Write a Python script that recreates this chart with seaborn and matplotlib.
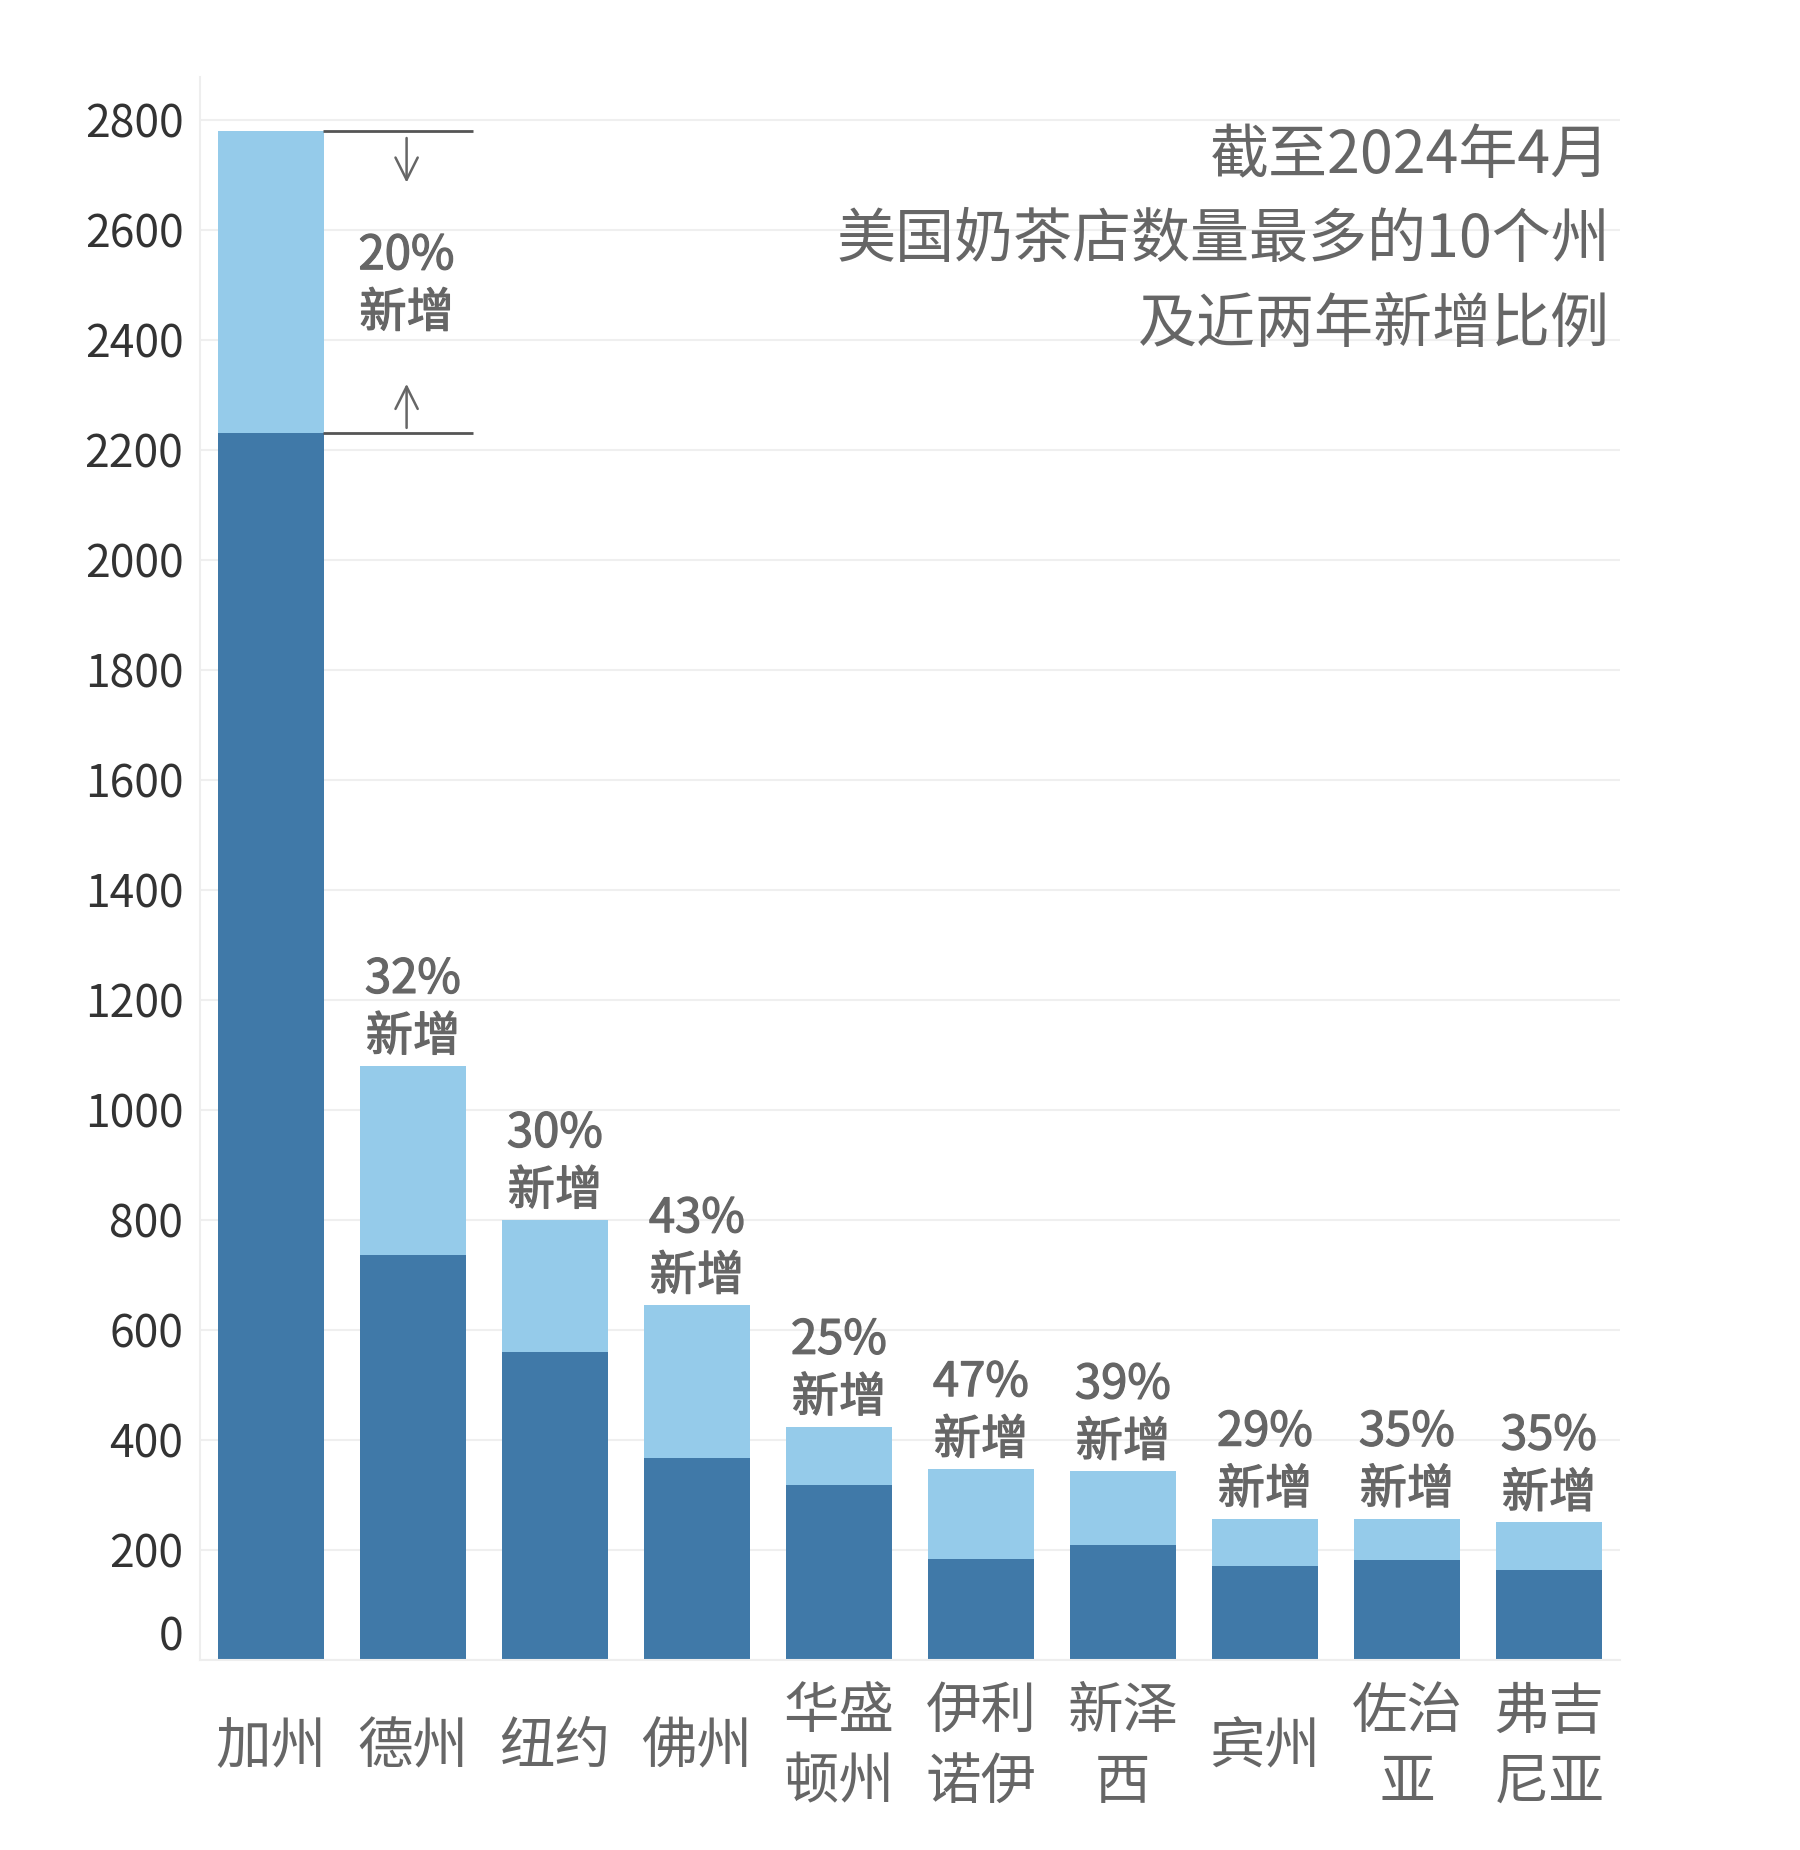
import seaborn as sns
import pandas as pd
import numpy as np
import matplotlib.pyplot as plt
import matplotlib.patheffects as pe

sns.set_style('white')
plt.rcParams['font.family'] = ['Noto Sans CJK SC', 'DejaVu Sans']

# 数据：截至2024年4月的奶茶店数量，以及两年前的数量
states = ['加州', '德州', '纽约', '佛州', '华盛\n顿州', '伊利\n诺伊', '新泽\n西', '宾州', '佐治\n亚', '弗吉\n尼亚']
total_2024 = [2780, 1080, 800, 645, 424, 347, 343, 257, 257, 250]
before = [2230, 737, 560, 367, 318, 184, 209, 170, 181, 163]
growth = ['20%', '32%', '30%', '43%', '25%', '47%', '39%', '29%', '35%', '35%']
yticks = [0, 200, 400, 600, 800, 1000, 1200, 1400, 1600, 1800, 2000, 2200, 2400, 2600, 2800]

df = pd.DataFrame({'州': states, '总数': total_2024, '两年前': before, '新增': growth})

light = '#95CBEA'
dark = '#4079A8'
gray = '#666666'
# 标注文字略加粗（介于常规和粗体之间）
thick = [pe.withStroke(linewidth=0.9, foreground=gray)]

fig = plt.figure(figsize=(18, 18.5), dpi=100)
ax = fig.add_axes([0.1111, 0.1027, 0.7889, 0.8557])

sns.barplot(data=df, x='州', y='总数', color=light, saturation=1, width=0.74, errorbar=None, linewidth=0, ax=ax)
sns.barplot(data=df, x='州', y='两年前', color=dark, saturation=1, width=0.74, errorbar=None, linewidth=0, ax=ax)

ax.set_xlim(-0.5, len(states) - 0.5)
ax.set_ylim(0, 2878)
ax.set_xlabel('')
ax.set_ylabel('')
ax.set_axisbelow(True)
ax.yaxis.grid(True, color='#efefef', lw=1.5)

ax.set_yticks(yticks, labels=[str(v) for v in yticks])
ax.tick_params(axis='y', length=7, color='#eeeeee', width=1.5, pad=5, labelsize=32, labelcolor='#333333')
for lbl in ax.get_yticklabels():
    if lbl.get_text() == '0':
        lbl.set_va('bottom')

ax.set_xticks(range(len(states)), labels=states)
ax.set_xticks(np.arange(-0.5, len(states), 1), minor=True)
ax.tick_params(axis='x', which='major', length=0, pad=63, labelsize=40, labelcolor=gray)
ax.tick_params(axis='x', which='minor', length=6, color='#eeeeee', width=1.5)
for lbl in ax.get_xticklabels():
    lbl.set_va('center')
    lbl.set_linespacing(1.3)

sns.despine(ax=ax)
for s in ['left', 'bottom']:
    ax.spines[s].set_color('#eeeeee')
    ax.spines[s].set_linewidth(1.5)

# 加州：用括线标注新增部分
ax.plot([0.366, 1.423], [total_2024[0], total_2024[0]], color='#555555', lw=2, solid_capstyle='butt')
ax.plot([0.366, 1.423], [before[0], before[0]], color='#555555', lw=2, solid_capstyle='butt')
ax.annotate('', xy=(0.955, 2686), xytext=(0.955, 2767),
            arrowprops=dict(arrowstyle='->', color=gray, lw=1.8, mutation_scale=40, shrinkA=0, shrinkB=0))
ax.annotate('', xy=(0.955, 2320), xytext=(0.955, 2240),
            arrowprops=dict(arrowstyle='->', color=gray, lw=1.8, mutation_scale=40, shrinkA=0, shrinkB=0))
ax.text(0.955, (total_2024[0] + before[0]) / 2 - 5, growth[0] + '\n新增', ha='center', va='center',
        fontsize=34, color=gray, linespacing=1.25, path_effects=thick)

# 其余各州：标注在柱顶
for i in range(1, len(states)):
    ax.annotate(growth[i] + '\n新增', (i, total_2024[i]), xytext=(0, 3), textcoords='offset points',
                ha='center', va='bottom', fontsize=34, color=gray, linespacing=1.25, path_effects=thick)

title_lines = ['截至2024年4月', '美国奶茶店数量最多的10个州', '及近两年新增比例']
for k, line in enumerate(title_lines):
    fig.text(0.8944, 1 - (157 + 84 * k) / 1850, line, ha='right', va='center', fontsize=42.5, color=gray)

plt.savefig('out.png', dpi=100)
